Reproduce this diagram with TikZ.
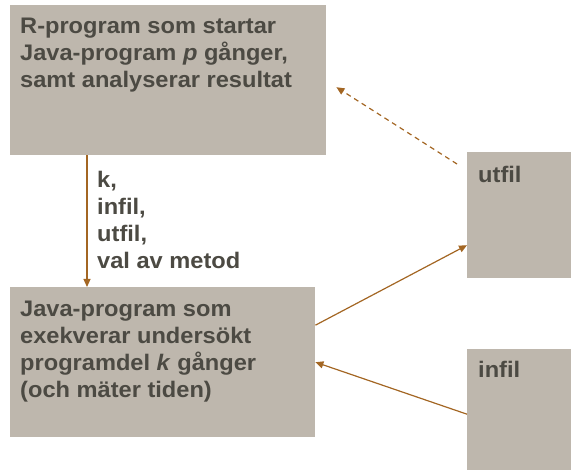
\documentclass[tikz,border=0pt]{standalone}
\usepackage{fontspec}
\setmainfont{Liberation Sans}[FakeStretch=1.05]
\usetikzlibrary{arrows.meta,positioning,calc}

\definecolor{boxfill}{RGB}{190,183,173}
\definecolor{textgray}{RGB}{76,74,67}
\definecolor{arrowbrown}{RGB}{163,102,35}

\begin{document}
\begin{tikzpicture}[x=1pt,y=-1pt,
    box/.style={fill=boxfill,draw=none,inner sep=0pt,anchor=north west},
    boxtext/.style={anchor=north west,inner sep=0pt,align=left,text=textgray,
        font=\fontsize{22.5}{27}\selectfont\bfseries},
    arr/.style={draw=arrowbrown,line width=1.2pt,-{Triangle[length=8pt,width=7pt]}},
    dasharr/.style={arr,dash pattern=on 5pt off 4pt}]
            \useasboundingbox (0,0) rectangle (571,470);
            \node[box,minimum width=316pt,minimum height=150pt]
            (rprog) at (10,5) {};
            \node[boxtext] (rtext) at ($(rprog.north west)+(10,12.5)$)
            {R-program som startar\\Java-program \textit{p} gånger,\\samt analyserar resultat};
            \node[box,minimum width=305pt,minimum height=150pt]
            (javaprog) at (10,287) {};
            \node[boxtext] (jtext) at ($(javaprog.north west)+(10,14)$)
            {Java-program som\\exekverar undersökt\\programdel \textit{k} gånger\\(och mäter tiden)};
            \node[box,minimum width=104pt,minimum height=126pt]
            (utfil) at (467,152) {};
            \node[boxtext] (utext) at ($(utfil.north west)+(11,14)$) {utfil};
            \node[box,minimum width=104pt,minimum height=121pt]
            (infil) at (467,349) {};
            \node[boxtext] (itext) at ($(infil.north west)+(11,12)$) {infil};
            % argument till Java-programmet
            \draw[arr] ([shift={(77,0)}]rprog.south west)
                -- coordinate (mid) ([shift={(77,0)}]javaprog.north west);
            \node[boxtext] (args) at ($(rprog.south west)+(87,16)$)
            {k,\\infil,\\utfil,\\val av metod};
            \draw[arr] ([shift={(0,-37)}]javaprog.east) -- ([shift={(0,30)}]utfil.west);
            \draw[arr] ([shift={(0,4.5)}]infil.west) -- (javaprog.east);
            \draw[dasharr] ([shift={(-10,12)}]utfil.north west) -- ([shift={(10,7)}]rprog.east);
        \end{tikzpicture}
\end{document}
